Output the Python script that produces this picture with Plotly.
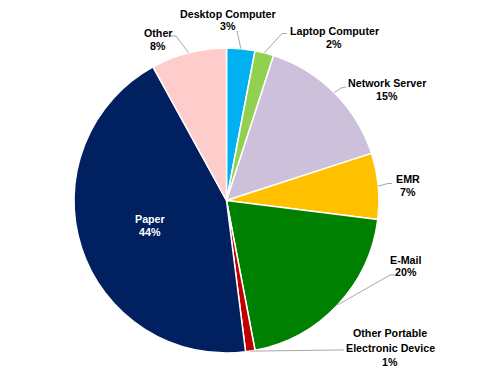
import math
import plotly.graph_objects as go

categories = ["Desktop Computer", "Laptop Computer", "Network Server", "EMR",
              "E-Mail", "Other Portable Electronic Device", "Paper", "Other"]
values = [3, 2, 15, 7, 20, 1, 44, 8]
colors = ["#00B0F0", "#92D050", "#CCC0DA", "#FFC000",
          "#008000", "#C00000", "#002060", "#FFCCCC"]

# label layout (page pixels): text lines, centre x, line-centre ys, leader points
label_lines = [["Desktop Computer"], ["Laptop Computer"], ["Network Server"], ["EMR"],
               ["E-Mail"], ["Other Portable", "Electronic Device"], ["Paper"], ["Other"]]
label_x = [227.5, 334, 387, 407.5, 406, 390, 150, 158]
label_y = [[13.5, 25.5], [31, 43.5], [83, 96], [179, 192],
           [260, 272], [333.3, 348.3, 361.7], [219, 232.5], [33, 45.5]]
leader_pts = [[(237, 31)], [(282, 33.5), (287, 33.5)], [(341, 88), (346, 87)],
              [(388, 183.5), (392, 183.5)], [(390, 275), (395, 275)],
              [(340, 350), (344, 350)], None, [(176, 36), (171, 36)]]

W, H = 482, 376
PAGE_MARGIN = 8           # body margin of the page
cx, cy, r = 226.5, 200.5, 152.5


def px(x):
    return (x - PAGE_MARGIN) / W


def py(y):
    return 1 - (y - PAGE_MARGIN) / H


fig = go.Figure(go.Pie(
    labels=categories, values=values, sort=False, direction="clockwise",
    rotation=0, textinfo="none", hoverinfo="label+percent",
    marker=dict(colors=colors, line=dict(color="white", width=1.5)),
    domain=dict(x=[px(cx - r), px(cx + r)], y=[py(cy + r), py(cy - r)]),
    showlegend=False,
))

total = sum(values)
cum = 0
annotations, shapes = [], []
fam = "Liberation Sans, Arial, sans-serif"
for i, v in enumerate(values):
    mid = (cum + v / 2) / total * 2 * math.pi
    cum += v
    pct = f"{round(v / total * 100)}%"
    lines = label_lines[i] + [pct]
    color = "white" if leader_pts[i] is None else "black"
    for t, y in zip(lines, label_y[i]):
        annotations.append(dict(
            x=px(label_x[i]), y=py(y), xref="paper", yref="paper",
            text=f"<b>{t}</b>", showarrow=False, xanchor="center", yanchor="middle",
            borderpad=0, font=dict(family=fam, size=10.7, color=color)))
    if leader_pts[i] is not None:
        ax = cx + r * math.sin(mid)
        ay = cy - r * math.cos(mid)
        pts = [(ax, ay)] + leader_pts[i]
        path = "M " + " L ".join(f"{px(a):.5f},{py(b):.5f}" for a, b in pts)
        shapes.append(dict(type="path", path=path, xref="paper", yref="paper",
                           line=dict(color="#A6A6A6", width=1)))

fig.update_layout(width=W, height=H, margin=dict(l=0, r=0, t=0, b=0),
                  paper_bgcolor="white", plot_bgcolor="white",
                  annotations=annotations, shapes=shapes)
fig.write_html("out.html")
